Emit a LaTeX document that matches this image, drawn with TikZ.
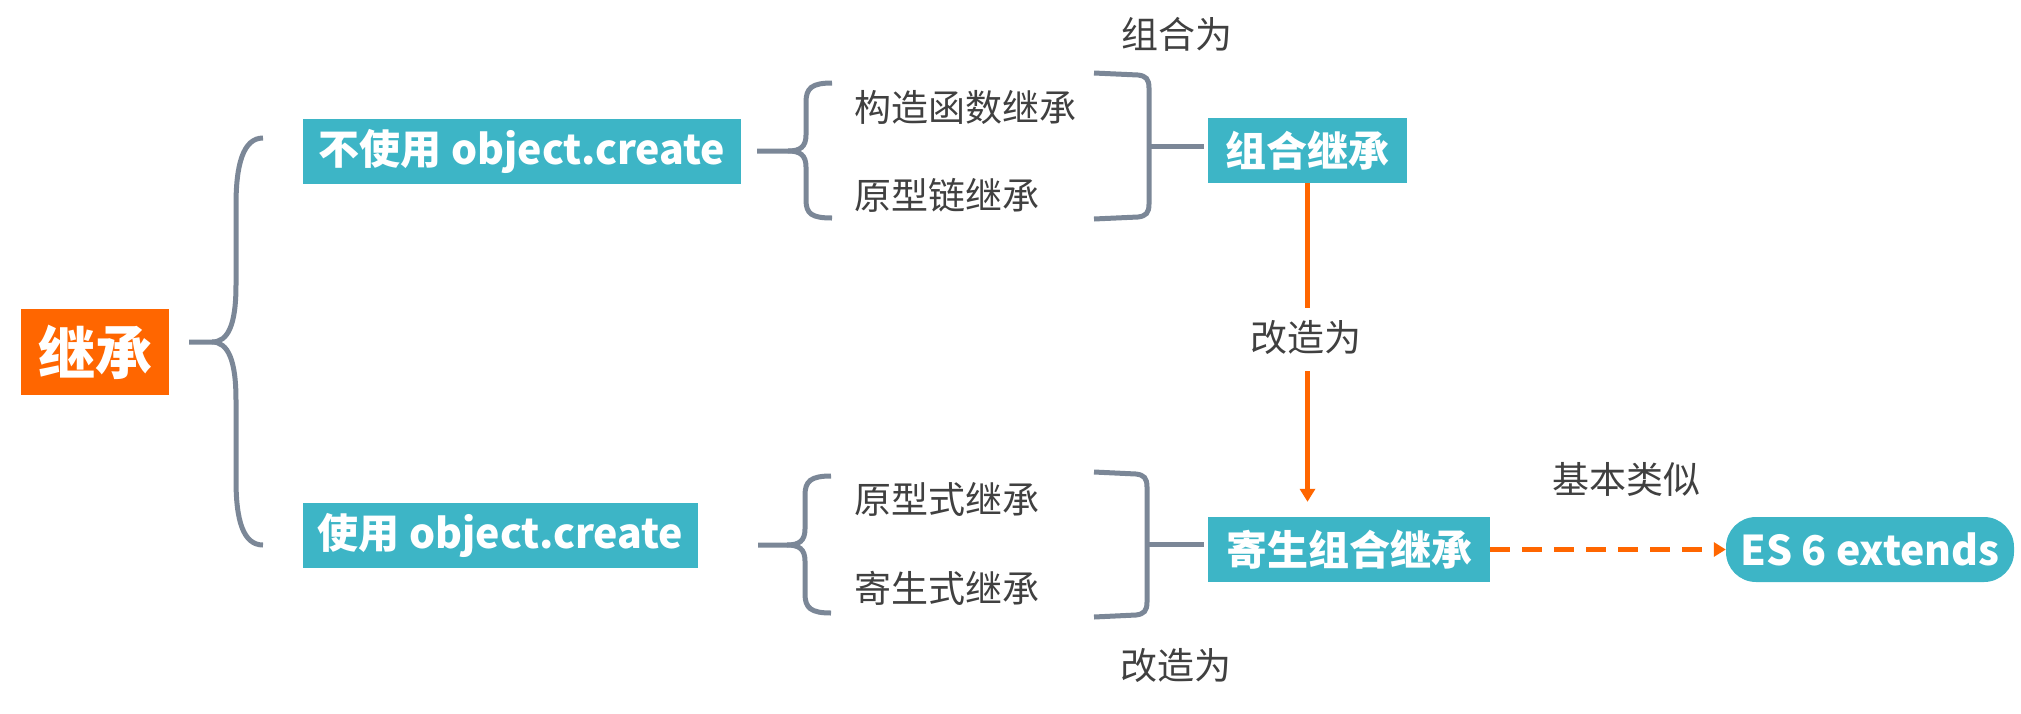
\documentclass[tikz,border=0pt]{standalone}
\usepackage{fontspec}
\setmainfont{Noto Sans CJK SC}
\usetikzlibrary{arrows.meta}
\definecolor{tealbox}{HTML}{3DB5C6}
\definecolor{orangebox}{HTML}{FF6600}
\definecolor{bracegray}{HTML}{7B8797}
\definecolor{labelgray}{HTML}{404040}
\tikzset{
  box/.style={fill=tealbox, text=white, font=\bfseries\fontsize{41}{48}\selectfont, inner sep=0pt, minimum height=65pt},
  lbl/.style={text=labelgray, font=\fontsize{37}{44}\selectfont, inner sep=0pt},
  brace/.style={draw=bracegray, line width=5pt},
  orangeline/.style={draw=orangebox, line width=4.7pt},
}
\begin{document}
\begin{tikzpicture}[x=1pt,y=-1pt]
\useasboundingbox (0,0) rectangle (2021,713);
% nodes
\node[fill=orangebox, text=white, font=\bfseries\fontsize{57}{64}\selectfont, inner sep=0pt, minimum width=148pt, minimum height=86pt] (root) at (95,352) {继承};
\node[box, minimum width=438pt] (nouse) at (522,151) {不使用 object.create};
\node[box, minimum width=395pt] (use) at (500.5,535) {使用 object.create};
\node[box, minimum width=199pt] (combo) at (1307.5,150.5) {组合继承};
\node[box, minimum width=282pt] (para) at (1349,549.5) {寄生组合继承};
\node[box, minimum width=288pt, rounded corners=30pt] (es) at (1870,549.5) {ES 6 extends};
% labels
\node[lbl, anchor=west] (ctor) at (854,107) {构造函数继承};
\node[lbl, anchor=west] (proto) at (854,195) {原型链继承};
\node[lbl, anchor=west] (protoform) at (854,499) {原型式继承};
\node[lbl, anchor=west] (paraform) at (854,588) {寄生式继承};
\node[lbl] (zuhewei) at (1177,34) {组合为};
\node[lbl] (gaizao2) at (1176,666) {改造为};
\node[lbl] (similar) at (1626,479) {基本类似};
\node[lbl] (gaizao1) at (1306,338) {改造为};
% big brace
\draw[brace] (263,138) .. controls (243,138) and (236,165) .. (236,205)
  -- (236,285) .. controls (236,325) and (228,342) .. (212,342) -- (189,342);
\draw[brace] (212,342) .. controls (228,342) and (236,360) .. (236,400)
  -- (236,480) .. controls (236,520) and (243,545) .. (263,545);
% top small brace
\draw[brace] (832,83) .. controls (812,83) and (806,88) .. (806,102) -- (806,135)
  .. controls (806,147) and (800,151) .. (788,151) -- (757,151);
\draw[brace] (788,151) .. controls (800,151) and (806,155) .. (806,167) -- (806,200)
  .. controls (806,214) and (812,218) .. (832,218);
% top right bracket
\draw[brace] (1094,73) -- (1138,75) .. controls (1146,76) and (1149,79) .. (1149,88)
  -- (1149,204) .. controls (1149,213) and (1146,216) .. (1138,217) -- (1094,219);
\draw[brace] (1149,146) -- (1204,146);
% bottom small brace
\draw[brace] (831,476) .. controls (811,476) and (805,481) .. (805,495) -- (805,529)
  .. controls (805,541) and (799,545) .. (787,545) -- (758,545);
\draw[brace] (787,545) .. controls (799,545) and (805,549) .. (805,561) -- (805,594)
  .. controls (805,608) and (811,613) .. (831,613);
% bottom right bracket
\draw[brace] (1094,472) -- (1136,474) .. controls (1144,475) and (1147,478) .. (1147,487)
  -- (1147,602) .. controls (1147,611) and (1144,614) .. (1136,615) -- (1094,617);
\draw[brace] (1147,544) -- (1204,544);
% orange arrow with label
\draw[orangeline, shorten >=13pt] (combo.south) -- (gaizao1.north -| combo.south);
\draw[orangeline, shorten <=16pt, shorten >=15pt, -{Triangle[width=15pt,length=13pt]}] (gaizao1.south -| combo.south) -- (para.north -| combo.south);
% dashed arrow
\draw[orangeline, dash pattern=on 20pt off 12pt, -{Triangle[width=14pt,length=12pt]}] (para.east) -- (es.west);
\end{tikzpicture}
\end{document}
